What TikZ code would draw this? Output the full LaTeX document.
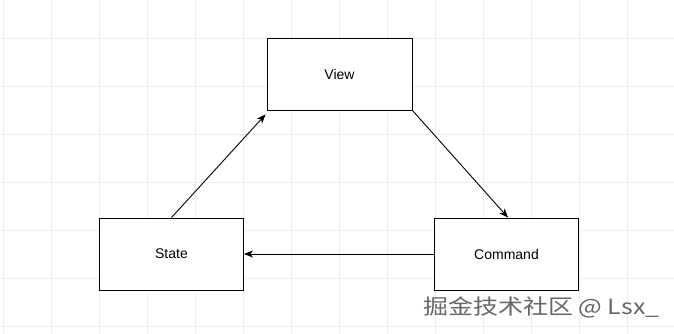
\documentclass[tikz,border=0pt]{standalone}
\usepackage{fontspec}
\setmainfont{Liberation Sans}
\newfontfamily\cjk{Noto Sans CJK SC}
\usetikzlibrary{arrows.meta, positioning}

\begin{document}
\begin{tikzpicture}[
    x=1pt, y=-1pt,
    every node/.style={font=\fontsize{14}{16}\selectfont},
    box/.style={rectangle, draw=black, line width=0.9pt, fill=white, minimum width=144pt, minimum height=72pt, inner sep=0pt},
    arrow/.style={-{Stealth[length=9pt, width=7pt, inset=2.5pt]}, line width=0.9pt},
    gridline/.style={draw=black!7, line width=0.7pt}
]
\useasboundingbox (0,0) rectangle (674,334);

% background grid
\foreach \gx in {3,51,...,675}
    \draw[gridline] (\gx,0) -- (\gx,334);
\foreach \gy in {38,86,...,334}
    \draw[gridline] (0,\gy) -- (674,\gy);

\node[box, minimum width=145pt] (view) at (339.5,74) {View};
\node[box] (state) at (171.5,254) {State};
\node[box] (command) at (506.5,254) {Command};

\draw[arrow] (state.north) -- ([xshift=-1pt, yshift=-4pt]view.south west);
\draw[arrow] (view.south east) -- ([xshift=1.5pt]command.north);
\draw[arrow] (command.west) -- (state.east);

\node[anchor=west, text=black!60, inner sep=0pt, font=\fontsize{21}{23}\selectfont] (watermark) at (423,307) {\scalebox{1.19}[1]{\cjk 掘金技术社区 @ Lsx\_}};

\end{tikzpicture}
\end{document}
